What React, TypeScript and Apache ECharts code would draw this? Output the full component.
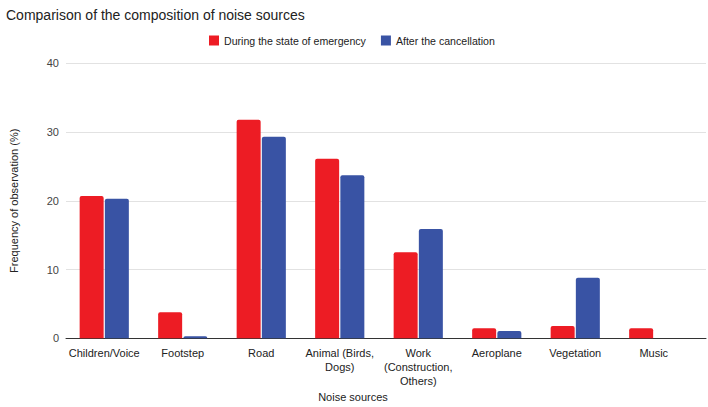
import React, { useEffect, useRef } from "react";
import * as echarts from "echarts";

const categories = [
  "Children/Voice",
  "Footstep",
  "Road",
  "Animal (Birds,\nDogs)",
  "Work\n(Construction,\nOthers)",
  "Aeroplane",
  "Vegetation",
  "Music",
];
const duringEmergency = [20.7, 3.8, 31.8, 26.1, 12.5, 1.45, 1.8, 1.45];
const afterCancellation = [20.3, 0.3, 29.3, 23.7, 15.9, 1.05, 8.8, 0];
const seriesNames = ["During the state of emergency", "After the cancellation"];
const yTicks = { min: 0, max: 40, interval: 10 };

const FONT = "'Liberation Sans', Arial, sans-serif";

export default function App() {
  const ref = useRef<HTMLDivElement>(null);
  useEffect(() => {
    if (!ref.current) return;
    const chart = echarts.init(ref.current, null, { renderer: "svg" });
    const top = 63.3;
    const height = 275;
    chart.setOption({
      animation: false,
      backgroundColor: "#ffffff",
      textStyle: { fontFamily: FONT },
      title: {
        text: "Comparison of the composition of noise sources",
        left: 1,
        top: 3,
        textStyle: { fontSize: 14, fontWeight: "normal", color: "#222", fontFamily: FONT },
      },
      legend: {
        left: 204,
        top: 30,
        itemWidth: 10,
        itemHeight: 10,
        itemGap: 15,
        icon: "rect",
        textStyle: { fontSize: 10.6, color: "#222", fontFamily: FONT },
        data: seriesNames,
      },
      grid: [
        { left: 53, right: 2, top, height, containLabel: false },
        { left: 65, right: 15, top, height, containLabel: false },
      ],
      xAxis: [
        {
          gridIndex: 0,
          type: "category",
          data: categories,
          axisLine: { show: true, lineStyle: { color: "#333", width: 1 } },
          axisTick: { show: false },
          axisLabel: { show: false },
          splitLine: { show: false },
        },
        {
          gridIndex: 1,
          type: "category",
          data: categories,
          axisLine: { show: false },
          axisTick: { show: false },
          axisLabel: {
            show: true,
            interval: 0,
            fontSize: 11,
            lineHeight: 14,
            color: "#222",
            margin: 8,
            fontFamily: FONT,
          },
        },
      ],
      yAxis: [
        {
          gridIndex: 0,
          type: "value",
          min: yTicks.min,
          max: yTicks.max,
          interval: yTicks.interval,
          name: "Frequency of observation (%)",
          nameLocation: "middle",
          nameGap: 47,
          nameTextStyle: { fontSize: 11, color: "#222", fontFamily: FONT },
          axisLine: { show: false },
          axisTick: { show: false },
          axisLabel: { fontSize: 11, color: "#444", margin: 7, fontFamily: FONT },
          splitLine: { show: true, lineStyle: { color: "#e2e2e2", width: 1 } },
        },
        {
          gridIndex: 1,
          type: "value",
          min: yTicks.min,
          max: yTicks.max,
          interval: yTicks.interval,
          show: false,
          splitLine: { show: false },
        },
      ],
      graphic: [
        {
          type: "text",
          x: 353,
          y: 397,
          style: {
            text: "Noise sources",
            fontSize: 11,
            fill: "#222",
            fontFamily: FONT,
            align: "center",
            verticalAlign: "middle",
          },
        },
      ],
      series: [
        {
          name: seriesNames[0],
          type: "bar",
          xAxisIndex: 1,
          yAxisIndex: 1,
          data: duringEmergency,
          barWidth: 24,
          barGap: "5%",
          itemStyle: { color: "#ed1c24", borderRadius: [2, 2, 0, 0] },
        },
        {
          name: seriesNames[1],
          type: "bar",
          xAxisIndex: 1,
          yAxisIndex: 1,
          data: afterCancellation,
          barWidth: 24,
          barGap: "5%",
          itemStyle: { color: "#3953a4", borderRadius: [2, 2, 0, 0] },
        },
      ],
    });
    return () => chart.dispose();
  }, []);
  return (
    <div
      ref={ref}
      style={{ position: "fixed", left: 0, top: 0, width: 708, height: 407 }}
    />
  );
}
